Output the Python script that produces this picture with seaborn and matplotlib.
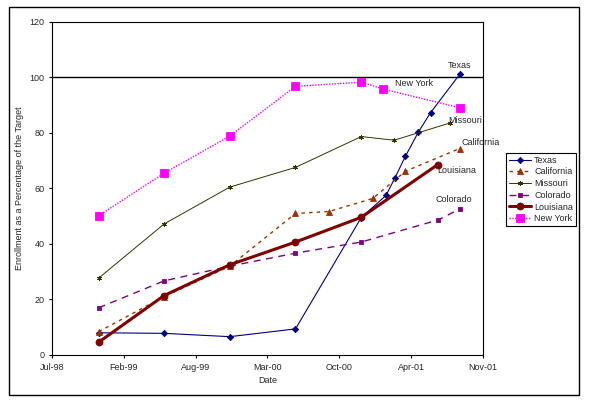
import pandas as pd
import seaborn as sns
import matplotlib.pyplot as plt
from matplotlib.patches import Rectangle

# Дані
texas_dates = ["1998-12-01", "1999-06-01", "1999-12-01", "2000-06-01", "2000-12-01", "2001-02-08",
               "2001-03-04", "2001-04-03", "2001-05-09", "2001-06-12", "2001-09-01"]
texas_vals = [8.0, 7.8, 6.6, 9.4, 49.5, 57.5, 63.6, 71.6, 80.3, 87.3, 101.1]

california_dates = ["1998-12-01", "1999-06-01", "1999-12-01", "2000-06-01", "2000-09-02",
                    "2001-01-02", "2001-04-03", "2001-09-01"]
california_vals = [8.4, 21.0, 32.0, 51.0, 51.7, 56.4, 66.2, 74.4]

missouri_dates = ["1998-12-01", "1999-06-01", "1999-12-01", "2000-06-01", "2000-12-01",
                  "2001-03-03", "2001-08-05"]
missouri_vals = [27.7, 47.2, 60.5, 67.6, 78.7, 77.4, 83.6]

colorado_dates = ["1998-12-01", "1999-06-01", "1999-12-01", "2000-06-01", "2000-12-01",
                  "2001-07-04", "2001-09-01"]
colorado_vals = [17.0, 26.7, 32.0, 36.7, 40.7, 48.7, 52.6]

louisiana_dates = ["1998-12-01", "1999-06-01", "1999-12-01", "2000-06-01", "2000-12-01", "2001-07-02"]
louisiana_vals = [4.6, 21.4, 32.5, 40.7, 49.6, 68.6]

newyork_dates = ["1998-12-01", "1999-06-01", "1999-12-01", "2000-06-01", "2000-12-01",
                 "2001-02-01", "2001-09-01"]
newyork_vals = [50.2, 65.5, 78.9, 96.8, 98.3, 95.8, 89.1]

target = 100
y_ticks = [0, 20, 40, 60, 80, 100, 120]

# Вісь дат як в Excel: від 36000 до 37200 з кроком 200 днів
x_start = pd.Timestamp("1998-07-24")
x_ticks = pd.date_range(x_start, periods=7, freq="200D")

series = [
    ("Texas", texas_dates, texas_vals,
     dict(color="#000080", marker="D", ms=3.2, lw=0.8, ls="-"), (-8.5, 6.5)),
    ("California", california_dates, california_vals,
     dict(color="#993300", marker="^", ms=4.2, lw=1.0, ls=(0, (2.5, 3))), (1.5, 4.3)),
    ("Missouri", missouri_dates, missouri_vals,
     dict(color="#333300", marker=(6, 2, 0), ms=3.5, lw=0.7, ls="-"), (-1.5, 1.7)),
    ("Colorado", colorado_dates, colorado_vals,
     dict(color="#800080", marker="s", ms=2.3, lw=1.0, ls=(0, (5, 4))), (-17.3, 7.2)),
    ("Louisiana", louisiana_dates, louisiana_vals,
     dict(color="#800000", marker="o", ms=5.0, lw=2.2, ls="-"), (0, -4.3)),
    ("New York", newyork_dates, newyork_vals,
     dict(color="#FF00FF", marker="s", ms=6, lw=1.0, ls=(0, (1, 1))), (-46.8, 17.3)),
]

sns.set_style("white")
plt.rcParams['font.family'] = ['Liberation Sans', 'DejaVu Sans']
plt.rcParams['font.size'] = 6.5

fig = plt.figure(figsize=(5.9, 4.07), dpi=100)
ax = fig.add_axes([0.0881, 0.1278, 0.7305, 0.8182])

ax.axhline(target, color="black", lw=1.0, zorder=1)

for name, dates, vals, st, off in series:
    d = pd.to_datetime(dates)
    sns.lineplot(x=d, y=vals, ax=ax, label=name, sort=False,
                 color=st["color"], marker=st["marker"], markersize=st["ms"],
                 linewidth=st["lw"], linestyle=st["ls"],
                 markeredgecolor=st["color"], markerfacecolor=st["color"], markeredgewidth=0.6)
    ax.annotate(name, (d[-1], vals[-1]), xytext=off, textcoords="offset points",
                ha="left", va="center", fontsize=6.5)

ax.set_xlim(x_ticks[0], x_ticks[-1])
ax.set_ylim(0, 120)
ax.set_xticks(x_ticks)
ax.set_xticklabels([t.strftime("%b-%y") for t in x_ticks])
ax.set_yticks(y_ticks)

ax.set_xlabel("Date", labelpad=3)
ax.set_ylabel("Enrollment as a Percentage of the Target", labelpad=4)

for sp in ax.spines.values():
    sp.set_visible(True)
    sp.set_color("black")
    sp.set_linewidth(0.8)
ax.tick_params(bottom=True, left=True, direction="out", length=2.5, width=0.8,
               color="black", pad=3, labelsize=6.5)

handles, labels = ax.get_legend_handles_labels()
ax.get_legend().remove()
leg = fig.legend(handles, labels, loc="upper left", bbox_to_anchor=(0.857, 0.625),
                 frameon=True, fancybox=False, edgecolor="black", framealpha=1,
                 handlelength=2.5, handletextpad=0.3, labelspacing=0.3,
                 borderpad=0.35, borderaxespad=0, fontsize=6.5)
leg.get_frame().set_linewidth(0.8)

# Рамка всієї діаграми
fig.patches.append(Rectangle((0.0153, 0.0295), 0.966, 0.953, transform=fig.transFigure,
                             fill=False, edgecolor="black", lw=1.0))

fig.savefig("out.png", dpi=100)
